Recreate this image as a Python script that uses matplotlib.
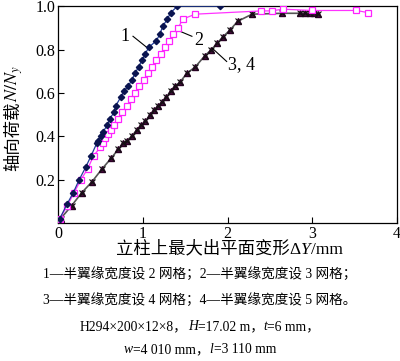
import matplotlib
matplotlib.use('Agg')
import matplotlib.pyplot as plt

plt.rcParams['font.family'] = ['Liberation Serif', 'Noto Sans CJK SC']
plt.rcParams['mathtext.fontset'] = 'stix'

# 曲线1：半翼缘宽度设2网格
x1 = [0.02, 0.11, 0.18, 0.25, 0.33, 0.39, 0.46, 0.47, 0.51, 0.53, 0.58, 0.61, 0.66,
      0.68, 0.74, 0.78, 0.83, 0.87, 0.91, 0.95, 0.99, 1.03, 1.07, 1.16, 1.20, 1.24,
      1.29, 1.33, 1.41, 1.91]
y1 = [0.02, 0.09, 0.14, 0.20, 0.26, 0.31, 0.37, 0.38, 0.40, 0.42, 0.45, 0.48, 0.51,
      0.54, 0.58, 0.61, 0.63, 0.66, 0.69, 0.72, 0.75, 0.78, 0.81, 0.84, 0.87, 0.91,
      0.94, 0.97, 1.00, 1.00]

# 曲线2：半翼缘宽度设3网格
x2 = [0.02, 0.11, 0.19, 0.27, 0.35, 0.42, 0.50, 0.53, 0.55, 0.59, 0.63, 0.66, 0.71,
      0.76, 0.81, 0.86, 0.91, 0.96, 1.01, 1.06, 1.11, 1.16, 1.21, 1.26, 1.31, 1.36,
      1.42, 1.47, 1.62, 2.40, 2.52, 2.65, 3.00, 3.52, 3.66]
y2 = [0.02, 0.08, 0.14, 0.20, 0.25, 0.31, 0.35, 0.37, 0.39, 0.41, 0.43, 0.45, 0.48,
      0.51, 0.54, 0.57, 0.60, 0.63, 0.66, 0.69, 0.72, 0.75, 0.78, 0.81, 0.84, 0.87,
      0.90, 0.94, 0.963, 0.978, 0.978, 0.986, 0.98, 0.98, 0.97]

# 曲线3、4：半翼缘宽度设4、5网格（基本重合）
x3 = [0.03, 0.16, 0.28, 0.40, 0.52, 0.63, 0.71, 0.77, 0.81, 0.87, 0.93, 0.98, 1.03,
      1.09, 1.13, 1.18, 1.23, 1.28, 1.33, 1.38, 1.44, 1.52, 1.62, 1.73, 1.81, 1.88,
      1.95, 2.03, 2.12, 2.29, 2.64, 2.86, 2.92, 2.97, 3.02, 3.07]
y3 = [0.02, 0.08, 0.14, 0.19, 0.25, 0.30, 0.34, 0.37, 0.38, 0.40, 0.43, 0.45, 0.47,
      0.50, 0.52, 0.54, 0.56, 0.58, 0.61, 0.63, 0.65, 0.69, 0.72, 0.77, 0.80, 0.83,
      0.86, 0.89, 0.93, 0.963, 0.967, 0.967, 0.967, 0.967, 0.967, 0.965]
x4 = x3
y4 = y3

# 图注，每段 (文字, 是否斜体)
captions = [
    [('1—半翼缘宽度设 2 网格；2—半翼缘宽度设 3 网格；', False)],
    [('3—半翼缘宽度设 4 网格；4—半翼缘宽度设 5 网格。', False)],
    [('H294×200×12×8，', False), ('H', True), ('=17.02 m，', False),
     ('t', True), ('=6 mm，', False)],
    [('w', True), ('=4 010 mm，', False), ('l', True), ('=3 110 mm', False)],
]
xlabel_parts = [('立柱上最大出平面变形', False), ('Δ', False), ('Y', True), ('/mm', False)]


def text_row(fig, xc, y, parts, size):
    # 多段文字横排居中，斜体字母单独画
    r = fig.canvas.get_renderer()
    W = fig.get_figwidth() * fig.dpi
    objs, widths = [], []
    for s, it in parts:
        t = fig.text(0, y, s, fontsize=size, style='italic' if it else 'normal',
                     ha='left', va='baseline')
        objs.append(t)
        widths.append(t.get_window_extent(r).width / W)
    x = xc - sum(widths) / 2
    for t, w in zip(objs, widths):
        t.set_x(x)
        x += w


fig = plt.figure(figsize=(4.0, 3.61), dpi=100)
ax = fig.add_axes([0.145, 0.382, 0.8475, 0.601])

ax.plot(x1, y1, color='#1f3a9a', lw=0.9, marker='D', ms=3.2,
        mfc='#0a1450', mec='#0a1450', zorder=4)
ax.plot(x2, y2, color='#ff33ff', lw=0.9, marker='s', ms=4,
        mfc='white', mec='#ff22ff', mew=0.9, zorder=3)
ax.plot(x3, y3, color='#555555', lw=1.2, marker='^', ms=4.5,
        mfc='#4a0a40', mec='#2a0025', zorder=2)
ax.plot(x4, y4, color='#222222', lw=0.6, marker='x', ms=4,
        mec='#111111', mew=0.8, ls='none', zorder=2)

ax.set_xlim(0, 4)
ax.set_ylim(0, 1.0)
ax.set_xticks([0, 1, 2, 3, 4])
ax.set_yticks([0.2, 0.4, 0.6, 0.8, 1.0])
ax.set_yticklabels(['0.2', '0.4', '0.6', '0.8', '1.0'])
ax.tick_params(direction='in', labelsize=11.5, length=4, width=0.8, pad=2)
for s in ax.spines.values():
    s.set_linewidth(0.9)

# 曲线标注
ax.plot([0.885, 1.06], [0.861, 0.806], color='black', lw=0.8)
ax.text(0.79, 0.86, '1', fontsize=13, ha='center', va='center')
ax.plot([1.44, 1.58], [0.884, 0.861], color='black', lw=0.8)
ax.text(1.66, 0.843, '2', fontsize=13, ha='center', va='center')
ax.plot([1.82, 1.99], [0.806, 0.745], color='black', lw=0.8)
ax.text(2.17, 0.73, '3, 4', fontsize=13, ha='center', va='center')

# 纵轴标题：中文 + 斜体 N/N_y，竖排拼接
r = fig.canvas.get_renderer()
H = fig.get_figheight() * fig.dpi
yl1 = fig.text(0.045, 0.5, '轴向荷载', fontsize=12.5, rotation=90,
               rotation_mode='anchor', ha='left', va='baseline')
ylen = yl1.get_window_extent(r).height / H
yl2 = fig.text(0.045, 0.5, '$N/N_y$', fontsize=13, rotation=90,
               rotation_mode='anchor', ha='left', va='baseline')
ylen2 = yl2.get_window_extent(r).height / H
y0 = 0.673 - (ylen + ylen2) / 2
yl1.set_y(y0)
yl2.set_y(y0 + ylen)

# 横轴标题
text_row(fig, 0.573, 0.297, xlabel_parts, 12.5)

for yy, parts in zip([0.229, 0.158, 0.086, 0.021], captions):
    text_row(fig, 0.5, yy, parts, 9.8)

fig.savefig('out.png', dpi=100)
